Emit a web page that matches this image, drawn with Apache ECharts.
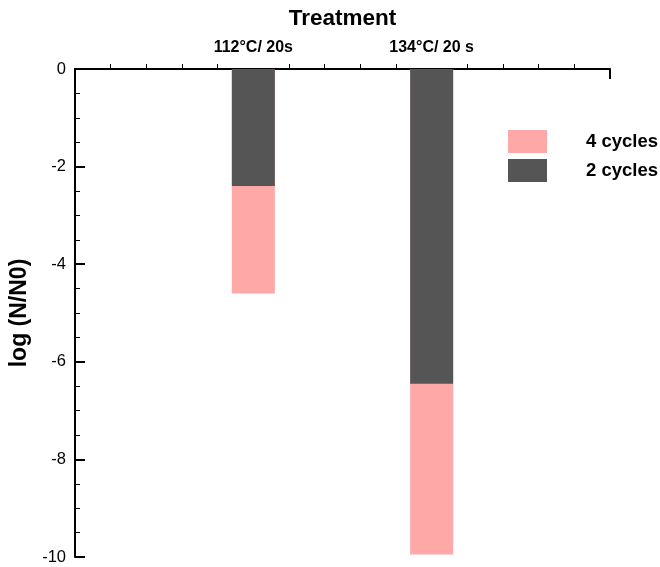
<!DOCTYPE html>
<html>
<head>
<meta charset="utf-8">
<script src="https://cdn.jsdelivr.net/npm/echarts@6/dist/echarts.min.js"></script>
<style>html,body{margin:0;padding:0;background:#fff}#c{width:660px;height:567px}</style>
</head>
<body>
<div id="c"></div>
<script>
var categories = ['', '112°C/ 20s', '134°C/ 20 s', ''];
var cycles4 = ['-', -4.6, -9.95, '-'];
var cycles2 = ['-', -2.4, -6.45, '-'];
var yTicks = [0, -2, -4, -6, -8, -10];

var chart = echarts.init(document.getElementById('c'), null, {renderer: 'canvas'});
var font = 'Liberation Sans, Arial, sans-serif';
chart.setOption({
  animation: false,
  grid: {left: 75, top: 69, right: 50, bottom: 10, containLabel: false, outerBoundsMode: 'none'},
  legend: {
    orient: 'vertical', left: 503, top: 125, itemWidth: 39, itemHeight: 23, itemGap: 6,
    icon: 'rect',
    textStyle: {fontFamily: font, fontWeight: 'bold', fontSize: 18.5, color: '#000', padding: [0, 0, 0, 34]},
    data: ['4 cycles', '2 cycles']
  },
  xAxis: [{
    type: 'category', data: categories, position: 'top', boundaryGap: false,
    name: 'Treatment', nameLocation: 'middle', nameGap: 38.5,
    nameTextStyle: {fontFamily: font, fontWeight: 'bold', fontSize: 22.5, color: '#000'},
    axisLine: {lineStyle: {color: '#000', width: 2}},
    axisTick: {inside: true, length: 10, lineStyle: {color: '#000', width: 2}},
    axisLabel: {fontFamily: font, fontWeight: 'bold', fontSize: 16, color: '#000', margin: 13},
    splitLine: {show: false}
  }, {
    type: 'value', min: 0, max: 3, interval: 1, position: 'top', offset: 0,
    axisLine: {show: false}, axisTick: {show: false}, axisLabel: {show: false},
    splitLine: {show: false},
    minorTick: {show: true, splitNumber: 5, length: 5, lineStyle: {color: '#000', width: 1}}
  }],
  yAxis: {
    type: 'value', min: -10, max: 0, interval: 2,
    name: 'log (N/N0)', nameLocation: 'middle', nameGap: 37, nameRotate: 90,
    nameTextStyle: {fontFamily: font, fontWeight: 'bold', fontSize: 23, color: '#000'},
    axisLine: {show: true, lineStyle: {color: '#000', width: 2}},
    axisTick: {show: true, inside: true, length: 10, lineStyle: {color: '#000', width: 2}},
    minorTick: {show: true, splitNumber: 4, length: 5, lineStyle: {color: '#000', width: 1}},
    axisLabel: {fontFamily: font, fontSize: 16.5, color: '#000', margin: 9,
      formatter: function (v) { return yTicks.indexOf(v) >= 0 ? String(v) : ''; }},
    splitLine: {show: false}
  },
  series: [{
    name: '4 cycles', type: 'bar', xAxisIndex: 0, data: cycles4, barWidth: 43, barGap: '-100%',
    itemStyle: {color: '#ffa8a8'}
  }, {
    name: '2 cycles', type: 'bar', xAxisIndex: 0, data: cycles2, barWidth: 43, barGap: '-100%',
    itemStyle: {color: '#555555'}
  }]
});
</script>
</body>
</html>
